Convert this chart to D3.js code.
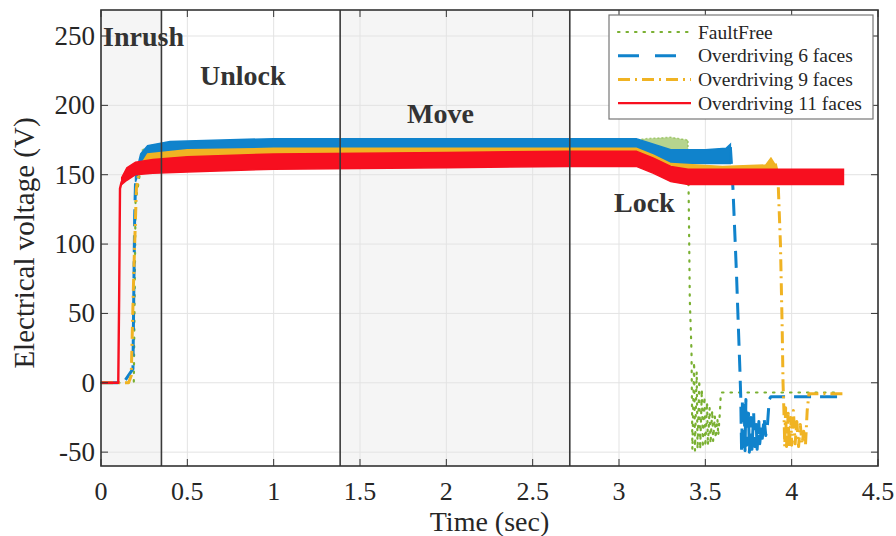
<!DOCTYPE html>
<html>
<head>
<meta charset="utf-8">
<script src="https://cdn.jsdelivr.net/npm/d3@7"></script>
<style>
  html, body { margin: 0; padding: 0; background: #fff; }
  svg { display: block; }
</style>
</head>
<body>
<div id="chart"></div>
<script>
// ─── Data ───────────────────────────────────────────────────────────────
const xTicks = [0, 0.5, 1, 1.5, 2, 2.5, 3, 3.5, 4, 4.5];
const yTicks = [-50, 0, 50, 100, 150, 200, 250];

// phase boundaries (sec) and shaded phases
const phaseLines = [0.35, 1.385, 2.715];
const shadedPhases = [[0, 0.35], [1.385, 2.715]];
const phaseNames = ['Inrush', 'Unlock', 'Move', 'Lock'];
const phaseAnchors = [[0.012, 243], [0.573, 215], [1.772, 187], [2.971, 123]]; // [t, V]

const seriesNames = ['FaultFree', 'Overdriving 6 faces', 'Overdriving 9 faces', 'Overdriving 11 faces'];

// noisy steady parts: [t, low, high]
const faultFreeBand = [[0.24, 158, 168], [0.3, 163, 171], [1, 166, 175], [2, 167, 175], [3.1, 167, 175],
  [3.15, 169, 176], [3.3, 168, 177], [3.4, 166, 175]];
const od6Band = [[0.2, 145, 150], [0.23, 155, 165], [0.27, 163, 171], [0.4, 165, 174], [1, 166, 176],
  [2, 167, 176], [3.1, 167, 176], [3.2, 163, 172], [3.3, 158, 168], [3.5, 158, 168], [3.62, 158, 169], [3.645, 158, 172]];
const od9Band = [[0.22, 150, 155], [0.27, 159, 165], [0.5, 160, 168], [1, 161, 169], [2.7, 162, 169],
  [3.1, 162, 169], [3.2, 157, 164], [3.3, 150, 158], [3.6, 148, 156], [3.85, 148, 157], [3.88, 148, 162], [3.905, 148, 157]];
const od11Band = [[0.12, 143, 148], [0.15, 146, 155], [0.2, 150, 159], [0.3, 151, 161], [0.5, 152, 163],
  [1, 154, 165], [2, 155, 166], [2.7, 156, 167], [3.1, 156, 167], [3.2, 151, 162], [3.3, 145, 156],
  [3.4, 143, 154], [4.3, 143, 154]];

// single-trace parts (start-up and collapse): [t, V]
const faultFreeTrace = [
  [[0, 0], [0.19, 0], [0.2, 130], [0.23, 155], [0.26, 162]],
  [[3.4, 168], [3.405, 120], [3.41, 60], [3.42, 22], [3.425, -48], [3.435, 15], [3.44, -49], [3.45, 8],
   [3.455, -48], [3.465, 2], [3.47, -48], [3.48, -5], [3.485, -47], [3.495, -10], [3.5, -46], [3.51, -14],
   [3.515, -45], [3.525, -18], [3.53, -44], [3.54, -20], [3.545, -42], [3.555, -24], [3.56, -40],
   [3.57, -26], [3.575, -38], [3.585, -20], [3.59, -7], [4.28, -7]]
];
const od6Trace = [
  [[0, 0], [0.13, 0], [0.185, 10], [0.195, 120], [0.2, 145]],
  [[3.645, 170], [3.66, 140], [3.68, 80], [3.7, 10], [3.705, -10], [3.71, -50], [3.715, -12], [3.72, -50],
   [3.725, -14], [3.73, -49], [3.735, -12], [3.74, -45], [3.75, -22], [3.755, -50], [3.765, -25], [3.77, -48],
   [3.78, -22], [3.785, -46], [3.795, -30], [3.8, -48], [3.81, -28], [3.815, -44], [3.825, -32], [3.83, -40],
   [3.84, -25], [3.85, -38], [3.86, -30], [3.87, -12], [3.88, -10], [4.3, -10]]
];
const od9Trace = [
  [[0, 0], [0.16, 0], [0.175, 5], [0.19, 80], [0.205, 140], [0.22, 152]],
  [[3.905, 158], [3.92, 150], [3.935, 100], [3.945, 40], [3.95, 0], [3.955, -20], [3.96, -46], [3.965, -18],
   [3.97, -46], [3.98, -22], [3.985, -47], [3.995, -25], [4.0, -45], [4.01, -20], [4.02, -44], [4.03, -28],
   [4.04, -46], [4.05, -30], [4.06, -44], [4.07, -35], [4.08, -45], [4.09, -20], [4.1, -8], [4.3, -8]]
];
const od11Trace = [
  [[0, 0], [0.1, 0], [0.105, 60], [0.11, 140], [0.12, 145]]
];

// ─── Layout ─────────────────────────────────────────────────────────────
const W = 896, H = 536;
const plot = { left: 101, right: 878, top: 10, bottom: 466 };
const serif = '"Liberation Serif", "Times New Roman", Times, serif';

const styles = [
  { color: '#7ab032', width: 2.2, dash: '1.5,7', cap: 'round', fillOpacity: 0.55 },
  { color: '#1083cc', width: 3, dash: '17,9', cap: 'butt', fillOpacity: 1 },
  { color: '#f0b323', width: 3, dash: '12,5,2,5', cap: 'butt', fillOpacity: 1 },
  { color: '#f70f1f', width: 2.4, dash: null, cap: 'butt', fillOpacity: 1 }
];
const bands = [faultFreeBand, od6Band, od9Band, od11Band];
const traces = [faultFreeTrace, od6Trace, od9Trace, od11Trace];

const x = d3.scaleLinear().domain([0, 4.5]).range([plot.left, plot.right]);
const y = d3.scaleLinear().domain([-60, 268.75]).range([plot.bottom, plot.top]);

const svg = d3.select('#chart').append('svg')
  .attr('width', W).attr('height', H)
  .style('background', '#fff');

// ─── Background shading + grid ──────────────────────────────────────────
svg.selectAll('.phase-bg')
  .data(shadedPhases)
  .join('rect')
  .attr('x', d => x(d[0])).attr('y', plot.top)
  .attr('width', d => x(d[1]) - x(d[0]))
  .attr('height', plot.bottom - plot.top)
  .attr('fill', '#f5f5f5');

const grid = svg.append('g').attr('stroke', '#e3e3e3').attr('stroke-width', 1);
grid.selectAll('.gx').data(xTicks).join('line')
  .attr('x1', d => x(d)).attr('x2', d => x(d))
  .attr('y1', plot.top).attr('y2', plot.bottom);
grid.selectAll('.gy').data(yTicks).join('line')
  .attr('x1', plot.left).attr('x2', plot.right)
  .attr('y1', d => y(d)).attr('y2', d => y(d));

// ─── Series ─────────────────────────────────────────────────────────────
const area = d3.area()
  .x(d => x(d[0])).y0(d => y(d[1])).y1(d => y(d[2]));
const line = d3.line().x(d => x(d[0])).y(d => y(d[1]));

const dataG = svg.append('g');
styles.forEach((s, i) => {
  const g = dataG.append('g');
  g.append('path')
    .attr('d', area(bands[i]))
    .attr('fill', s.color).attr('fill-opacity', s.fillOpacity)
    .attr('stroke', s.color).attr('stroke-width', 1.5)
    .attr('stroke-opacity', s.fillOpacity)
    .attr('stroke-dasharray', i === 0 ? '2,2' : null);
  traces[i].forEach(seg => {
    g.append('path')
      .attr('d', line(seg))
      .attr('fill', 'none')
      .attr('stroke', s.color)
      .attr('stroke-width', s.width)
      .attr('stroke-linecap', s.cap)
      .attr('stroke-linejoin', 'round')
      .attr('stroke-dasharray', s.dash);
  });
});

// ─── Phase divider lines + labels ───────────────────────────────────────
svg.selectAll('.phase-line')
  .data(phaseLines)
  .join('line')
  .attr('x1', d => x(d)).attr('x2', d => x(d))
  .attr('y1', plot.top).attr('y2', plot.bottom)
  .attr('stroke', '#3a3a3a').attr('stroke-width', 1.6);

svg.selectAll('.phase-label')
  .data(phaseNames)
  .join('text')
  .attr('x', (d, i) => x(phaseAnchors[i][0]))
  .attr('y', (d, i) => y(phaseAnchors[i][1]))
  .attr('font-family', serif).attr('font-weight', 'bold')
  .attr('font-size', 28).attr('fill', '#333')
  .text(d => d);

// ─── Frame, ticks, labels ───────────────────────────────────────────────
svg.append('rect')
  .attr('x', plot.left).attr('y', plot.top)
  .attr('width', plot.right - plot.left).attr('height', plot.bottom - plot.top)
  .attr('fill', 'none').attr('stroke', '#333').attr('stroke-width', 1.6);

const tickLen = 7;
const ticks = svg.append('g').attr('stroke', '#333').attr('stroke-width', 1);
xTicks.forEach(t => {
  ticks.append('line').attr('x1', x(t)).attr('x2', x(t)).attr('y1', plot.bottom).attr('y2', plot.bottom - tickLen);
  ticks.append('line').attr('x1', x(t)).attr('x2', x(t)).attr('y1', plot.top).attr('y2', plot.top + tickLen);
});
yTicks.forEach(v => {
  ticks.append('line').attr('x1', plot.left).attr('x2', plot.left + tickLen).attr('y1', y(v)).attr('y2', y(v));
  ticks.append('line').attr('x1', plot.right).attr('x2', plot.right - tickLen).attr('y1', y(v)).attr('y2', y(v));
});

svg.selectAll('.xt').data(xTicks).join('text')
  .attr('x', d => x(d)).attr('y', 500)
  .attr('text-anchor', 'middle')
  .attr('font-family', serif).attr('font-size', 26).attr('fill', '#262626')
  .text(d => d);

svg.selectAll('.yt').data(yTicks).join('text')
  .attr('x', plot.left - 6).attr('y', d => y(d) + 9)
  .attr('text-anchor', 'end')
  .attr('font-family', serif).attr('font-size', 27).attr('fill', '#262626')
  .text(d => d);

svg.append('text')
  .attr('x', x(2.25)).attr('y', 531)
  .attr('text-anchor', 'middle')
  .attr('font-family', serif).attr('font-size', 28).attr('fill', '#262626')
  .text('Time (sec)');

svg.append('text')
  .attr('transform', 'translate(34, 243) rotate(-90)')
  .attr('text-anchor', 'middle')
  .attr('font-family', serif).attr('font-size', 29).attr('fill', '#262626')
  .text('Electrical voltage (V)');

// ─── Legend ─────────────────────────────────────────────────────────────
const legend = svg.append('g').attr('transform', 'translate(609, 15)');
legend.append('rect')
  .attr('width', 264).attr('height', 104)
  .attr('fill', '#fff').attr('stroke', '#777').attr('stroke-width', 1.2);

seriesNames.forEach((name, i) => {
  const ly = 17 + i * 23.7;
  const s = styles[i];
  legend.append('line')
    .attr('x1', 9).attr('x2', 82).attr('y1', ly).attr('y2', ly)
    .attr('stroke', s.color).attr('stroke-width', s.width)
    .attr('stroke-linecap', s.cap)
    .attr('stroke-dasharray', i === 1 ? '21,16' : s.dash);
  legend.append('text')
    .attr('x', 89).attr('y', ly + 6.5)
    .attr('font-family', serif).attr('font-size', 19.5).attr('fill', '#262626')
    .text(name);
});
</script>
</body>
</html>
